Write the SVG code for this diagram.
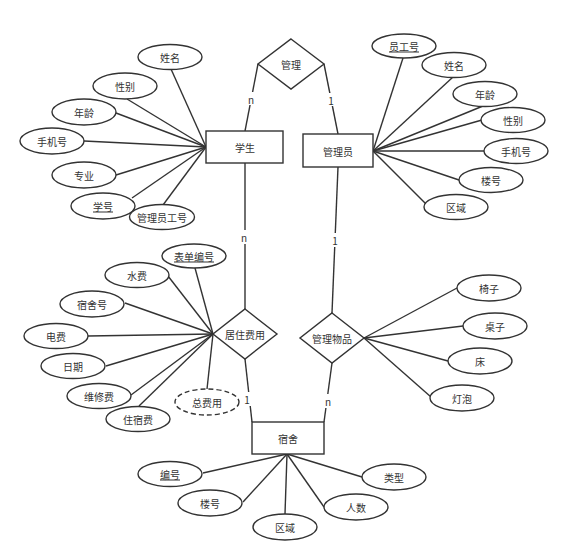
<svg xmlns="http://www.w3.org/2000/svg" width="566" height="542" viewBox="0 0 566 542">
<style>
.s{fill:#fff;stroke:#333;stroke-width:1.4}
.d{fill:#fff;stroke:#333;stroke-width:1.4;stroke-dasharray:5 3}
.l{stroke:#333;stroke-width:1.4;fill:none}
text{font-family:"Noto Sans CJK SC","Liberation Sans",sans-serif;font-size:10px;fill:#333;text-anchor:middle;dominant-baseline:central}
.u{text-decoration:underline}
.c{font-size:10px;fill:#333}
</style>
<rect width="566" height="542" fill="#fff"/>
<g id="connectors">
<line class="l" x1="206" y1="147" x2="171" y2="69"/>
<line class="l" x1="206" y1="147" x2="127" y2="99"/>
<line class="l" x1="206" y1="147" x2="116" y2="113"/>
<line class="l" x1="206" y1="147" x2="84" y2="141"/>
<line class="l" x1="206" y1="147" x2="116" y2="175"/>
<line class="l" x1="206" y1="147" x2="132" y2="198"/>
<line class="l" x1="206" y1="147" x2="163" y2="205"/>
<line class="l" x1="245" y1="131" x2="258" y2="64"/>
<line class="l" x1="324" y1="64" x2="338" y2="134"/>
<line class="l" x1="373" y1="151" x2="403" y2="58"/>
<line class="l" x1="373" y1="151" x2="453" y2="77"/>
<line class="l" x1="373" y1="151" x2="483" y2="106"/>
<line class="l" x1="373" y1="151" x2="482" y2="120"/>
<line class="l" x1="373" y1="151" x2="484" y2="151"/>
<line class="l" x1="373" y1="151" x2="459" y2="180"/>
<line class="l" x1="373" y1="151" x2="426" y2="204"/>
<line class="l" x1="245" y1="163" x2="245" y2="309"/>
<line class="l" x1="338" y1="167" x2="332" y2="313"/>
<line class="l" x1="213" y1="334" x2="195" y2="268"/>
<line class="l" x1="213" y1="334" x2="168" y2="276"/>
<line class="l" x1="213" y1="334" x2="125" y2="303"/>
<line class="l" x1="213" y1="334" x2="88" y2="336"/>
<line class="l" x1="213" y1="334" x2="106" y2="366"/>
<line class="l" x1="213" y1="334" x2="131" y2="395"/>
<line class="l" x1="213" y1="334" x2="139" y2="406"/>
<line class="l" x1="213" y1="334" x2="207" y2="389"/>
<line class="l" x1="245" y1="359" x2="252" y2="422"/>
<line class="l" x1="332" y1="363" x2="324" y2="422"/>
<line class="l" x1="364" y1="338" x2="457" y2="288"/>
<line class="l" x1="364" y1="338" x2="463" y2="326"/>
<line class="l" x1="364" y1="338" x2="448" y2="361"/>
<line class="l" x1="364" y1="338" x2="431" y2="397"/>
<line class="l" x1="287" y1="454" x2="203" y2="473"/>
<line class="l" x1="287" y1="454" x2="243" y2="502"/>
<line class="l" x1="287" y1="454" x2="285" y2="514"/>
<line class="l" x1="287" y1="454" x2="324" y2="507"/>
<line class="l" x1="287" y1="454" x2="362" y2="477"/>
<rect x="246" y="92" width="10" height="13" fill="#fff"/>
<text class="c" x="251" y="99">n</text>
<rect x="326" y="93" width="10" height="13" fill="#fff"/>
<text class="c" x="331" y="100">1</text>
<rect x="239" y="230" width="11" height="14" fill="#fff"/>
<text class="c" x="244" y="237">n</text>
<rect x="330" y="233" width="10" height="14" fill="#fff"/>
<text class="c" x="335" y="240">1</text>
<rect x="243" y="392" width="9" height="14" fill="#fff"/>
<text class="c" x="247" y="399">1</text>
<rect x="323" y="394" width="10" height="14" fill="#fff"/>
<text class="c" x="328" y="401">n</text>
</g>
<g id="student"><rect class="s" x="206" y="131" width="77" height="32"/><text x="245" y="147">学生</text></g>
<g id="admin"><rect class="s" x="303" y="134" width="70" height="33"/><text x="338" y="151">管理员</text></g>
<g id="dorm"><rect class="s" x="252" y="422" width="72" height="32"/><text x="288" y="438">宿舍</text></g>
<g id="manage"><polygon class="s" points="291,39 324,64 291,89 258,64"/><text x="291" y="64">管理</text></g>
<g id="fee"><polygon class="s" points="245,309 277,334 245,359 213,334"/><text x="245" y="334">居住费用</text></g>
<g id="goods"><polygon class="s" points="332,313 364,338 332,363 300,338"/><text x="332" y="338">管理物品</text></g>
<g id="s-name"><ellipse class="s" cx="170" cy="57" rx="32" ry="12.5"/><text x="170" y="57">姓名</text></g>
<g id="s-sex"><ellipse class="s" cx="125" cy="86" rx="32" ry="13"/><text x="125" y="86">性别</text></g>
<g id="s-age"><ellipse class="s" cx="84" cy="112" rx="32" ry="13"/><text x="84" y="112">年龄</text></g>
<g id="s-phone"><ellipse class="s" cx="52" cy="141" rx="32" ry="13"/><text x="52" y="141">手机号</text></g>
<g id="s-major"><ellipse class="s" cx="84" cy="175" rx="32" ry="13"/><text x="84" y="175">专业</text></g>
<g id="s-id"><ellipse class="s" cx="103" cy="206" rx="32" ry="13"/><text class="u" x="103" y="206">学号</text></g>
<g id="s-adminid"><ellipse class="s" cx="162" cy="217" rx="32.5" ry="12.5"/><text x="162" y="217">管理员工号</text></g>
<g id="a-id"><ellipse class="s" cx="404" cy="46" rx="32" ry="12"/><text class="u" x="404" y="46">员工号</text></g>
<g id="a-name"><ellipse class="s" cx="454" cy="65" rx="32" ry="12.5"/><text x="454" y="65">姓名</text></g>
<g id="a-age"><ellipse class="s" cx="485" cy="94" rx="32" ry="12.5"/><text x="485" y="94">年龄</text></g>
<g id="a-sex"><ellipse class="s" cx="513" cy="120" rx="32" ry="12.5"/><text x="513" y="120">性别</text></g>
<g id="a-phone"><ellipse class="s" cx="516" cy="151" rx="32" ry="12.5"/><text x="516" y="151">手机号</text></g>
<g id="a-building"><ellipse class="s" cx="491" cy="180" rx="32" ry="12.5"/><text x="491" y="180">楼号</text></g>
<g id="a-area"><ellipse class="s" cx="456" cy="207" rx="32" ry="12.5"/><text x="456" y="207">区域</text></g>
<g id="f-formid"><ellipse class="s" cx="194" cy="256" rx="32" ry="12"/><text class="u" x="194" y="256">表单编号</text></g>
<g id="f-water"><ellipse class="s" cx="137" cy="275" rx="32" ry="12.5"/><text x="137" y="275">水费</text></g>
<g id="f-dormid"><ellipse class="s" cx="92" cy="304" rx="32" ry="13"/><text x="92" y="304">宿舍号</text></g>
<g id="f-power"><ellipse class="s" cx="56" cy="336" rx="32" ry="12.5"/><text x="56" y="336">电费</text></g>
<g id="f-date"><ellipse class="s" cx="73" cy="366" rx="32" ry="12.5"/><text x="73" y="366">日期</text></g>
<g id="f-repair"><ellipse class="s" cx="99" cy="396" rx="32" ry="12.5"/><text x="99" y="396">维修费</text></g>
<g id="f-lodging"><ellipse class="s" cx="138" cy="419" rx="32" ry="12.5"/><text x="138" y="419">住宿费</text></g>
<g id="f-total"><ellipse class="d" cx="207" cy="402" rx="32" ry="13"/><text x="207" y="402">总费用</text></g>
<g id="g-chair"><ellipse class="s" cx="489" cy="288" rx="32" ry="13"/><text x="489" y="288">椅子</text></g>
<g id="g-desk"><ellipse class="s" cx="495" cy="326" rx="32" ry="13"/><text x="495" y="326">桌子</text></g>
<g id="g-bed"><ellipse class="s" cx="480" cy="361" rx="32" ry="13"/><text x="480" y="361">床</text></g>
<g id="g-lamp"><ellipse class="s" cx="462" cy="398" rx="32" ry="13"/><text x="462" y="398">灯泡</text></g>
<g id="d-id"><ellipse class="s" cx="170" cy="474" rx="32" ry="12.5"/><text class="u" x="170" y="474">编号</text></g>
<g id="d-building"><ellipse class="s" cx="210" cy="503" rx="32" ry="13"/><text x="210" y="503">楼号</text></g>
<g id="d-area"><ellipse class="s" cx="285" cy="527" rx="32" ry="13"/><text x="285" y="527">区域</text></g>
<g id="d-count"><ellipse class="s" cx="356" cy="507" rx="32" ry="13"/><text x="356" y="507">人数</text></g>
<g id="d-type"><ellipse class="s" cx="394" cy="477" rx="32" ry="13"/><text x="394" y="477">类型</text></g>
</svg>
